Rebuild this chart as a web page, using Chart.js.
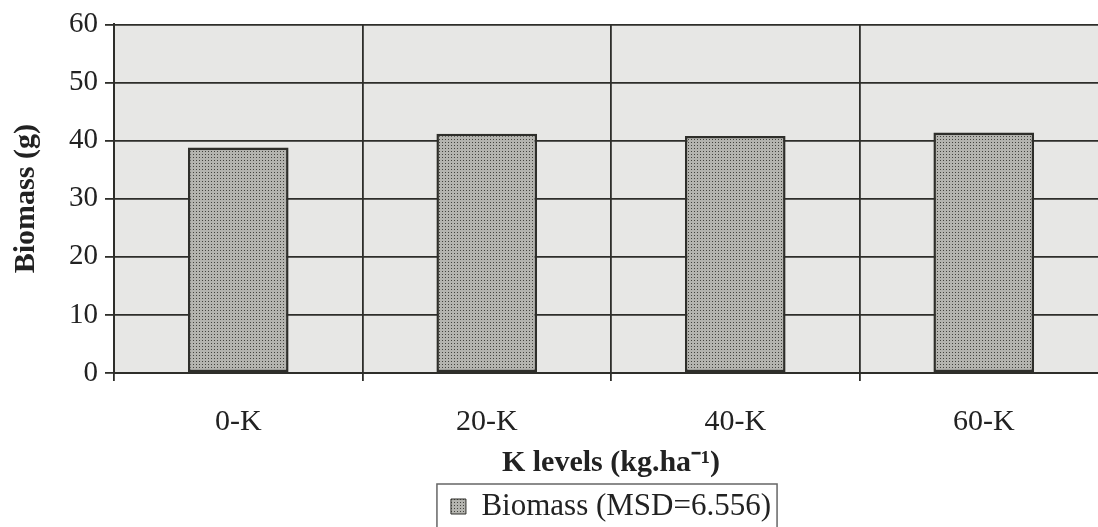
<!DOCTYPE html>
<html>
<head>
<meta charset="utf-8">
<script src="https://cdn.jsdelivr.net/npm/chart.js@4.4.1/dist/chart.umd.min.js"></script>
<style>
  html, body { margin: 0; padding: 0; background: #fff; overflow: hidden; }
  #wrap { width: 1098px; height: 527px; overflow: hidden; position: relative; }
  #box { width: 1222px; height: 532px; position: absolute; left: 0; top: 0; }
</style>
</head>
<body>
<div id="wrap"><div id="box"><canvas id="chart"></canvas></div></div>
<script>
var categories = ['0-K', '20-K', '40-K', '60-K'];
var biomass = [38.8, 41.2, 40.8, 41.4];
var seriesLabel = 'Biomass (MSD=6.556)';
var yTicks = [0, 10, 20, 30, 40, 50, 60];

var serif = "'Liberation Serif', 'Times New Roman', serif";
var ink = '#2e2e2a';

// dotted fill like the printed bars
function dotPattern() {
  var c = document.createElement('canvas');
  c.width = 3; c.height = 3;
  var g = c.getContext('2d');
  g.fillStyle = '#b4b4af';
  g.fillRect(0, 0, 3, 3);
  g.fillStyle = '#44443f';
  g.fillRect(1, 1, 1, 1);
  return g.createPattern(c, 'repeat');
}
var barFill = dotPattern();

var plotBg = {
  id: 'plotBg',
  beforeDraw(chart) {
    var a = chart.chartArea, ctx = chart.ctx;
    ctx.save();
    ctx.fillStyle = '#e7e7e5';
    ctx.fillRect(a.left, a.top, a.right - a.left, a.bottom - a.top);
    ctx.restore();
  }
};

var legendBorder = {
  id: 'legendBorder',
  afterDraw(chart) {
    var hb = chart.legend.legendHitBoxes[0];
    if (!hb) return;
    var ctx = chart.ctx;
    ctx.save();
    ctx.strokeStyle = '#666';
    ctx.lineWidth = 1.5;
    ctx.strokeRect(hb.left - 14, hb.top - 7, hb.width + 20, hb.height + 40);
    ctx.restore();
  }
};

const ctx = document.getElementById('chart');
new Chart(ctx, {
  type: 'bar',
  data: {
    labels: categories,
    datasets: [{
      label: seriesLabel,
      data: biomass,
      backgroundColor: barFill,
      borderColor: ink,
      borderWidth: 2.5,
      borderSkipped: false,
      barPercentage: 0.405,
      categoryPercentage: 1
    }]
  },
  options: {
    responsive: true,
    maintainAspectRatio: false,
    animation: false,
    layout: { padding: { left: 8, right: 114, top: 0, bottom: 0 } },
    plugins: {
      tooltip: { enabled: false },
      legend: {
        position: 'bottom',
        fullSize: false,
        labels: {
          font: { family: serif, size: 31 },
          color: '#222',
          boxWidth: 15,
          boxHeight: 15,
          padding: 13,
          generateLabels(chart) {
            var items = Chart.defaults.plugins.legend.labels.generateLabels(chart);
            items.forEach(function (it) { it.lineWidth = 1; });
            return items;
          }
        }
      }
    },
    scales: {
      x: {
        grid: { color: ink, lineWidth: 1.8, tickLength: 8 },
        border: { color: ink, width: 2 },
        ticks: { font: { family: serif, size: 30, lineHeight: 1 }, color: '#222', padding: 26 },
        title: {
          display: true,
          text: 'K levels (kg.ha\u207B\u00B9)',
          font: { family: serif, size: 30, weight: 'bold', lineHeight: 1 },
          color: '#222',
          padding: { top: -15, bottom: 0 }
        }
      },
      y: {
        min: 0,
        max: 60,
        afterBuildTicks(axis) { axis.ticks = yTicks.map(v => ({ value: v })); },
        grid: { color: ink, lineWidth: 1.8, tickLength: 9 },
        border: { color: ink, width: 2 },
        ticks: { font: { family: serif, size: 29 }, color: '#222', padding: 7 },
        title: {
          display: true,
          text: 'Biomass (g)',
          font: { family: serif, size: 30, weight: 'bold' },
          color: '#222',
          padding: { top: 0, bottom: 18 }
        }
      }
    }
  },
  plugins: [plotBg, legendBorder]
});
</script>
</body>
</html>
